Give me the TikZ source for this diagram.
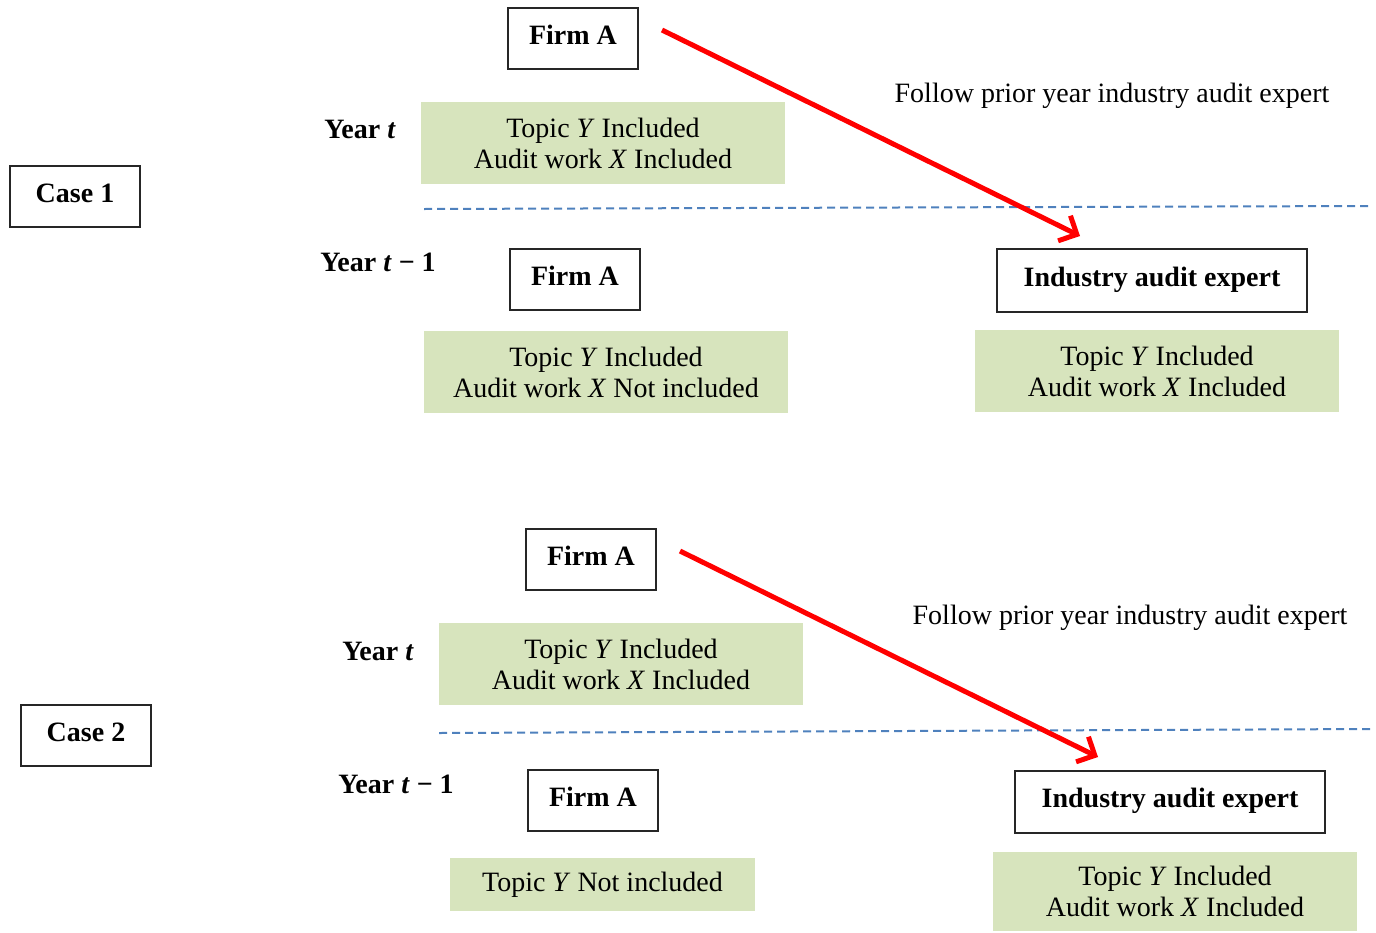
\documentclass[tikz,border=0pt]{standalone}
\usepackage{fontspec}
\setmainfont{Liberation Serif}
\usetikzlibrary{arrows.meta}
\definecolor{boxgreen}{HTML}{D7E4BD}
\definecolor{dashblue}{HTML}{4F81BD}
\definecolor{arrowred}{HTML}{FF0000}
\tikzset{
  lbl/.style={font=\fontsize{28}{31}\selectfont},
  blbl/.style={font=\fontsize{28}{31}\selectfont\bfseries},
  framebox/.style={draw=black!85, line width=1.2pt, fill=white, blbl, inner sep=0pt, text height=19pt, text depth=8pt},
  greenbox/.style={fill=boxgreen, lbl, align=center, inner sep=0pt},
  divider/.style={draw=dashblue, line width=2pt, dash pattern=on 8pt off 5pt},
  follow/.style={draw=arrowred, line width=5pt, -{Straight Barb[length=14pt,width=28pt,line width=5pt]}}
}
\begin{document}
\begin{tikzpicture}[x=1pt,y=-1pt]
\useasboundingbox (0,0) rectangle (1376,932);

% ---------- Case 1 ----------
\node[framebox, minimum width=130pt, minimum height=61pt] (case1) at (75,196.5) {Case 1};
\node[framebox, minimum width=130pt, minimum height=61pt] (f1t) at (573,38.5) {Firm A};
\node[blbl] (y1t) at (360,129) {Year \textit{t}};
\node[greenbox, minimum width=364pt, minimum height=82pt] (g1t) at (603,143) {Topic \textit{Y} Included\\Audit work \textit{X} Included};
\coordinate (d1a) at (424,209);
\coordinate (d1b) at (1370,206);
\draw[divider] (d1a) -- (d1b);
\node[blbl] (y1p) at (378,262) {Year \textit{t} − 1};
\node[framebox, minimum width=130pt, minimum height=61pt] (f1p) at (575,279.5) {Firm A};
\node[greenbox, minimum width=364pt, minimum height=82pt] (g1p) at (606,372) {Topic \textit{Y} Included\\Audit work \textit{X} Not included};
\node[framebox, minimum width=310pt, minimum height=63pt] (e1) at (1152,280.5) {Industry audit expert};
\node[greenbox, minimum width=364pt, minimum height=82pt] (g1e) at (1157,371) {Topic \textit{Y} Included\\Audit work \textit{X} Included};
\node[lbl] (l1) at (1112,96) {Follow prior year industry audit expert};
\coordinate (a1s) at (662,30);
\coordinate (a1e) at (1080,236);
\draw[follow] (a1s) -- (a1e);

% ---------- Case 2 ----------
\node[framebox, minimum width=130pt, minimum height=61pt] (case2) at (86,735.5) {Case 2};
\node[framebox, minimum width=130pt, minimum height=61pt] (f2t) at (591,559.5) {Firm A};
\node[blbl] (y2t) at (378,651) {Year \textit{t}};
\node[greenbox, minimum width=364pt, minimum height=82pt] (g2t) at (621,664) {Topic \textit{Y} Included\\Audit work \textit{X} Included};
\coordinate (d2a) at (439,733);
\coordinate (d2b) at (1372,729);
\draw[divider] (d2a) -- (d2b);
\node[blbl] (y2p) at (396,784) {Year \textit{t} − 1};
\node[framebox, minimum width=130pt, minimum height=61pt] (f2p) at (593,800.5) {Firm A};
\node[greenbox, minimum width=305pt, minimum height=53pt] (g2p) at (602.5,884.5) {Topic \textit{Y} Not included};
\node[framebox, minimum width=310pt, minimum height=62pt] (e2) at (1170,802) {Industry audit expert};
\node[greenbox, minimum width=364pt, minimum height=79pt] (g2e) at (1175,891.5) {Topic \textit{Y} Included\\Audit work \textit{X} Included};
\node[lbl] (l2) at (1130,618) {Follow prior year industry audit expert};
\coordinate (a2s) at (680,551);
\coordinate (a2e) at (1098,757);
\draw[follow] (a2s) -- (a2e);
\end{tikzpicture}
\end{document}
